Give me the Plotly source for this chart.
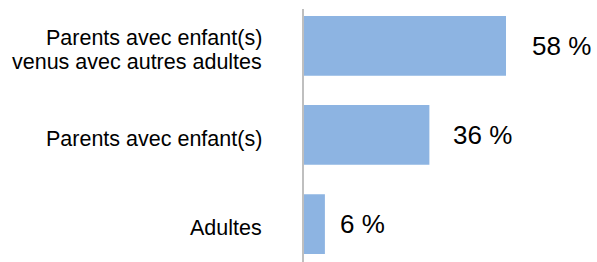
import plotly.graph_objects as go

categories = ["Adultes", "Parents avec enfant(s)", "Parents avec enfant(s)<br>venus avec autres adultes"]
values = [6, 36, 58]
value_labels = ["6 %", "36 %", "58 %"]

label_shift = [13, 22, 24]
FONT = "Liberation Sans, Arial, sans-serif"

fig = go.Figure()
fig.add_trace(go.Bar(
    x=values, y=categories, orientation="h",
    marker=dict(color="#8DB4E2", line=dict(width=0)),
    width=0.67, hoverinfo="skip",
))

ann = []
for c, v, t, s in zip(categories, values, value_labels, label_shift):
    ann.append(dict(x=v, y=c, xref="x", yref="y", text=t, showarrow=False,
                    xanchor="left", yanchor="middle", xshift=s,
                    font=dict(family=FONT, size=26, color="#000000")))
    lines = c.split("<br>")
    n = len(lines)
    for i, ln in enumerate(lines):
        ann.append(dict(x=0, y=c, xref="paper", yref="y", text=ln, showarrow=False,
                        xanchor="right", yanchor="middle", xshift=-40,
                        yshift=((n - 1) / 2 - i) * 24 - 4,
                        font=dict(family=FONT, size=21.5, color="#000000")))

fig.update_layout(
    width=597, height=262,
    margin=dict(l=304, r=0, t=9, b=0, pad=0),
    paper_bgcolor="white", plot_bgcolor="white",
    showlegend=False,
    annotations=ann,
    xaxis=dict(range=[0, (597 - 304) / 3.483], showgrid=False, zeroline=False,
               showticklabels=False, showline=False, fixedrange=True),
    yaxis=dict(type="category", categoryorder="array", categoryarray=categories,
               range=[-0.426, 2.413], showgrid=False, zeroline=False,
               showticklabels=False, showline=True, linecolor="#BFBFBF", linewidth=2,
               ticks="", fixedrange=True),
)

fig.write_html(
    "out.html",
    config={"displayModeBar": False, "staticPlot": True},
    post_script="document.body.style.margin='0';document.body.style.overflow='hidden';",
)
